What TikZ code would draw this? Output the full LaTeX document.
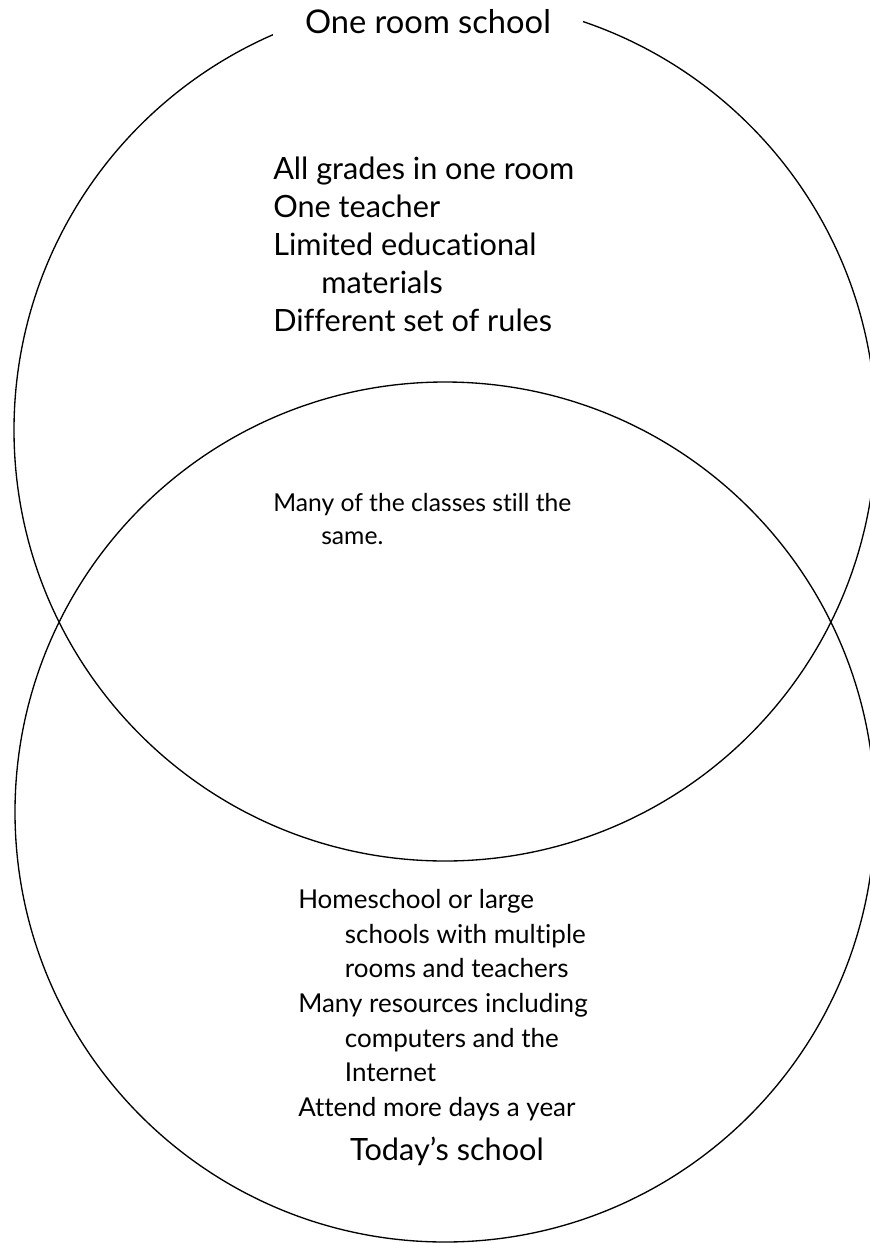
\documentclass[tikz,border=0pt]{standalone}
\usepackage{fontspec}
\setmainfont{Lato}[Ligatures=NoCommon]
\begin{document}
\begin{tikzpicture}[x=0.75pt,y=-0.75pt,
  ring/.style={draw,circle,inner sep=0pt,line width=1pt},
  big/.style={font=\fontsize{23}{28.5}\selectfont},
  small/.style={font=\fontsize{19.5}{26}\selectfont},
  list/.style={align=left,anchor=north west,inner sep=0pt}]
  \useasboundingbox (0,0) rectangle (869,1243);
  \node (old) at (445,430) [ring,minimum size=646.5pt] {};
  \node (new) at (445,812) [ring,minimum size=645pt] {};
  \node (oldtitle) at (428,33) [big,font=\fontsize{24.5}{28}\selectfont,anchor=base,fill=white,inner xsep=24pt,inner ysep=10pt] {One room school};
  \node (oldlist) at (273,157) [big,list] {All grades in one room\\One teacher\\Limited educational\\\hspace*{36pt}materials\\Different set of rules};
  \node (both) at (273,493) [small,font=\fontsize{18.5}{25}\selectfont,list] {Many of the classes still the\\\hspace*{36pt}same.};
  \node (newlist) at (298,889) [small,list] {Homeschool or large\\\hspace*{35pt}schools with multiple\\\hspace*{35pt}rooms and teachers\\Many resources including\\\hspace*{35pt}computers and the\\\hspace*{35pt}Internet\\Attend more days a year};
  \node (newtitle) at (447,1160) [big,anchor=base] {Today’s school};
\end{tikzpicture}
\end{document}
